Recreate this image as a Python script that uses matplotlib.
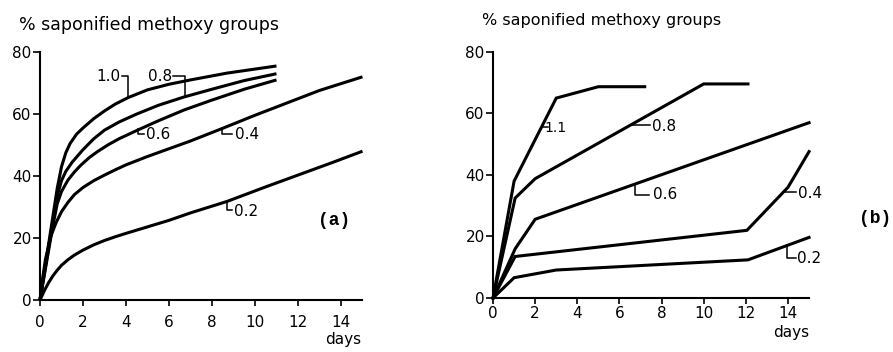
import matplotlib
matplotlib.use("Agg")
import matplotlib.pyplot as plt

# (a) courbes lisses
a_labels = ["1.0", "0.8", "0.6", "0.4", "0.2"]
a_days_10 = [0, 0.2, 0.4, 0.6, 0.8, 1.0, 1.2, 1.4, 1.7, 2.0, 2.5, 3.0, 3.5, 4.1, 5.0, 6.0, 7.0, 8.7, 11.0]
a_vals_10 = [0, 9, 18, 27, 36, 43, 47.5, 50.5, 53.5, 55.5, 58.5, 61, 63.2, 65.3, 67.8, 69.6, 71, 73.2, 75.5]
a_days_08 = [0, 0.2, 0.4, 0.6, 0.8, 1.0, 1.2, 1.5, 2.0, 2.5, 3.0, 3.7, 4.5, 5.5, 6.7, 8.0, 9.5, 11.0]
a_vals_08 = [0, 8.5, 17, 25.5, 33.5, 38.5, 41.5, 44.5, 48.5, 52, 54.8, 57.5, 60, 62.8, 65.5, 68, 70.8, 73]
a_days_06 = [0, 0.2, 0.4, 0.6, 0.8, 1.0, 1.3, 1.6, 1.9, 2.3, 2.7, 3.2, 3.7, 4.6, 5.5, 6.7, 8.0, 9.5, 11.0]
a_vals_06 = [0, 8, 16, 24, 31, 35, 38.7, 41.3, 43.5, 46, 48, 50.2, 52.1, 55, 57.8, 61.3, 64.5, 68, 71]
a_days_04 = [0, 0.1, 0.25, 0.5, 0.75, 1.0, 1.3, 1.6, 2.0, 2.5, 3.0, 3.5, 4.0, 5.0, 6.0, 7.0,
             8.5, 10.0, 11.5, 13.0, 15.0]
a_vals_04 = [0, 6, 13, 20.5, 25, 28.5, 31.5, 34, 36.3, 38.5, 40.3, 42, 43.6, 46.3, 48.8, 51.3,
             55.4, 59.6, 63.6, 67.6, 72]
a_days_02 = [0, 0.2, 0.4, 0.6, 0.8, 1.0, 1.3, 1.6, 2.0, 2.5, 3.0, 3.5, 4.0, 5.0, 6.0, 7.0,
             8.7, 10.5, 12.0, 13.5, 15.0]
a_vals_02 = [0, 3, 5.6, 7.8, 9.6, 11.2, 13, 14.5, 16.1, 17.8, 19.2, 20.4, 21.5, 23.6, 25.7, 28.1,
             31.8, 36.5, 40.3, 44.1, 48]

# (b) segments droits
b_labels = ["1.1", "0.8", "0.6", "0.4", "0.2"]
b_days_11 = [0, 1.0, 3.0, 5.0, 7.2]
b_vals_11 = [0, 38, 65, 68.7, 68.7]
b_days_08 = [0, 1.05, 2.0, 10.0, 12.1]
b_vals_08 = [0, 32.5, 38.8, 69.6, 69.6]
b_days_06 = [0, 1.05, 2.0, 15.0]
b_vals_06 = [0, 16, 25.6, 57]
b_days_04 = [0, 1.05, 12.05, 14.0, 15.0]
b_vals_04 = [0, 13.5, 22, 36, 47.6]
b_days_02 = [0, 1.0, 3.0, 12.1, 15.0]
b_vals_02 = [0, 6.6, 9.1, 12.4, 19.7]

xticks = [0, 2, 4, 6, 8, 10, 12, 14]
yticks = [0, 20, 40, 60, 80]
ylabel = "% saponified methoxy groups"


def prepare_axe(ax, pad_x):
    ax.set_xlim(0, 15)
    ax.set_ylim(0, 80)
    for s in ["top", "right"]:
        ax.spines[s].set_visible(False)
    for s in ["left", "bottom"]:
        ax.spines[s].set_linewidth(1.5)
    ax.set_xticks(xticks)
    ax.set_yticks(yticks)
    ax.tick_params(axis="x", length=4, width=1.2, pad=pad_x, labelsize=11)
    ax.tick_params(axis="y", length=5, width=1.2, pad=1, labelsize=11)


def leader(ax, xs, ys):
    ax.plot(xs, ys, color="black", lw=1.1, clip_on=False)


fig = plt.figure(figsize=(8.93, 3.52), dpi=100)

# ---- panneau (a)
ax1 = fig.add_axes([0.0448, 0.1477, 0.3611, 0.7045])
prepare_axe(ax1, 7)
for d, v in [(a_days_10, a_vals_10), (a_days_08, a_vals_08), (a_days_06, a_vals_06),
             (a_days_04, a_vals_04), (a_days_02, a_vals_02)]:
    ax1.plot(d, v, color="black", lw=2.2, clip_on=False, solid_capstyle="butt")

leader(ax1, [3.8, 4.09, 4.09], [72.2, 72.2, 65.5])
ax1.text(3.2, 72.2, a_labels[0], ha="center", va="center", fontsize=11)
leader(ax1, [6.2, 6.73, 6.73], [72.2, 72.2, 65.5])
ax1.text(5.6, 72.2, a_labels[1], ha="center", va="center", fontsize=11)
leader(ax1, [4.56, 4.56, 4.84], [55.2, 53.5, 53.5])
ax1.text(5.5, 53.3, a_labels[2], ha="center", va="center", fontsize=11)
leader(ax1, [8.45, 8.45, 8.92], [55.4, 53.5, 53.5])
ax1.text(9.65, 53.3, a_labels[3], ha="center", va="center", fontsize=11)
leader(ax1, [8.68, 8.68, 8.92], [31.7, 29.0, 29.0])
ax1.text(9.6, 28.6, a_labels[4], ha="center", va="center", fontsize=11)

ax1.text(13.67, 25.8, "(a)", ha="center", va="center", fontsize=13,
         family="Liberation Mono", weight="bold")
ax1.text(-1.0, 88.7, ylabel, ha="left", va="center", fontsize=12.5, clip_on=False)
ax1.text(14.1, -12.9, "days", ha="center", va="center", fontsize=11, clip_on=False)

# ---- panneau (b)
ax2 = fig.add_axes([0.5521, 0.1534, 0.3539, 0.699])
prepare_axe(ax2, 2)
for d, v in [(b_days_11, b_vals_11), (b_days_08, b_vals_08), (b_days_06, b_vals_06),
             (b_days_04, b_vals_04), (b_days_02, b_vals_02)]:
    ax2.plot(d, v, color="black", lw=2.2, clip_on=False, solid_joinstyle="miter")

leader(ax2, [2.39, 2.63], [55.7, 55.7])
ax2.text(2.95, 55.2, b_labels[0], ha="center", va="center", fontsize=10)
leader(ax2, [6.5, 7.45], [56.4, 56.4])
ax2.text(8.1, 55.9, b_labels[1], ha="center", va="center", fontsize=11)
leader(ax2, [6.74, 6.74, 7.4], [37.0, 33.5, 33.5])
ax2.text(8.15, 33.5, b_labels[2], ha="center", va="center", fontsize=11)
leader(ax2, [13.86, 14.4], [34.5, 34.5])
ax2.text(15.05, 34.1, b_labels[3], ha="center", va="center", fontsize=11)
leader(ax2, [13.94, 13.94, 14.4], [17.1, 13.0, 13.0])
ax2.text(15.0, 12.8, b_labels[4], ha="center", va="center", fontsize=11)

ax2.text(18.15, 26, "(b)", ha="center", va="center", fontsize=13,
         family="Liberation Mono", weight="bold", clip_on=False)
ax2.text(-0.54, 90.1, ylabel, ha="left", va="center", fontsize=11.5, clip_on=False)
ax2.text(14.14, -11.3, "days", ha="center", va="center", fontsize=11, clip_on=False)

fig.savefig("out.png", dpi=100)
